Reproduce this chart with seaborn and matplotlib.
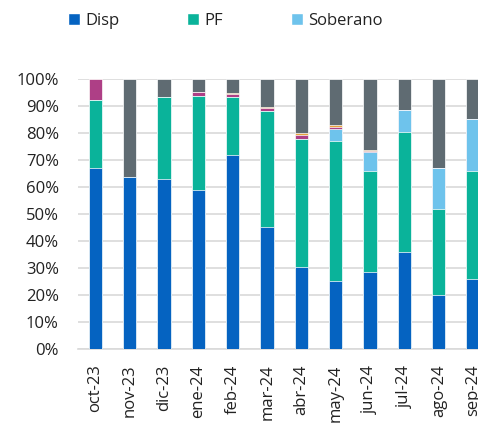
import matplotlib
matplotlib.use("Agg")
import matplotlib.pyplot as plt
from matplotlib.patches import Patch
import numpy as np
import pandas as pd
import seaborn as sns

meses = ["oct-23", "nov-23", "dic-23", "ene-24", "feb-24", "mar-24",
         "abr-24", "may-24", "jun-24", "jul-24", "ago-24", "sep-24"]

# participación (%) por tipo de instrumento
disp = [67.0, 63.7, 63.0, 59.1, 72.0, 45.4, 30.6, 25.2, 28.8, 36.2, 20.2, 26.2]
pf = [25.4, 0.0, 30.4, 34.6, 21.3, 43.0, 47.4, 52.1, 37.4, 44.4, 31.7, 40.0]
soberano = [0.0, 0.0, 0.0, 0.0, 0.0, 0.0, 0.0, 4.4, 7.0, 8.0, 15.3, 19.1]
otros_a = [7.6, 0.0, 0.0, 1.6, 1.2, 1.0, 1.5, 0.7, 0.2, 0.0, 0.0, 0.0]
otros_b = [0.0, 0.0, 0.0, 0.0, 0.3, 0.2, 0.7, 0.5, 0.4, 0.0, 0.0, 0.0]
otros_c = [0.0, 36.3, 6.6, 4.7, 5.2, 10.4, 19.8, 17.1, 26.2, 11.4, 32.8, 14.7]

series = [("Disp", disp, "#0563C1"),
          ("PF", pf, "#0AB39A"),
          ("Soberano", soberano, "#6EC3EC"),
          ("otros_a", otros_a, "#AE3F86"),
          ("otros_b", otros_b, "#E8A33D"),
          ("otros_c", otros_c, "#5F6B72")]

df = pd.DataFrame({name: vals for name, vals, _ in series}, index=meses)
cum = df.cumsum(axis=1)

sns.set_style("white")
plt.rcParams["font.family"] = ["Open Sans", "DejaVu Sans"]

fig = plt.figure(figsize=(4.78, 4.23), dpi=100)
ax = fig.add_axes([78.3 / 478, 73.7 / 423, 412 / 478, 270 / 423])

# stacked bars: draw cumulative totals from the top layer down
for name, _, color in reversed(series):
    sns.barplot(x=meses, y=cum[name].values, color=color, saturation=1,
                width=0.39, edgecolor="white", linewidth=0.5, ax=ax, zorder=3)

ax.set_xlim(-0.5, 11.5)
ax.set_ylim(0, 100)
ax.set_yticks(np.arange(0, 101, 10))
ax.set_yticklabels([f"{v}%" for v in range(0, 101, 10)])
ax.yaxis.grid(True, color="#D9D9D9", linewidth=1.2, zorder=0)
ax.xaxis.grid(False)
ax.set_axisbelow(True)
for s in ["top", "right", "left"]:
    ax.spines[s].set_visible(False)
ax.spines["bottom"].set_color("#D9D9D9")
ax.spines["bottom"].set_linewidth(1.2)
ax.tick_params(axis="y", length=0, pad=14, labelsize=12, labelcolor="#222222")
ax.tick_params(axis="x", length=0, pad=11, labelsize=12, labelcolor="#222222",
               labelrotation=90)
ax.set_xlabel("")
ax.set_ylabel("")

handles = [Patch(facecolor=c, label=n) for n, _, c in series[:3]]
fig.legend(handles=handles, loc="center left", bbox_to_anchor=(68 / 478, 1 - 21 / 423),
           ncol=3, frameon=False, fontsize=12, handlelength=0.72, handleheight=0.72,
           handletextpad=0.3, columnspacing=4.1, borderpad=0, borderaxespad=0,
           labelcolor="#222222")

fig.savefig("out.png", dpi=100)
